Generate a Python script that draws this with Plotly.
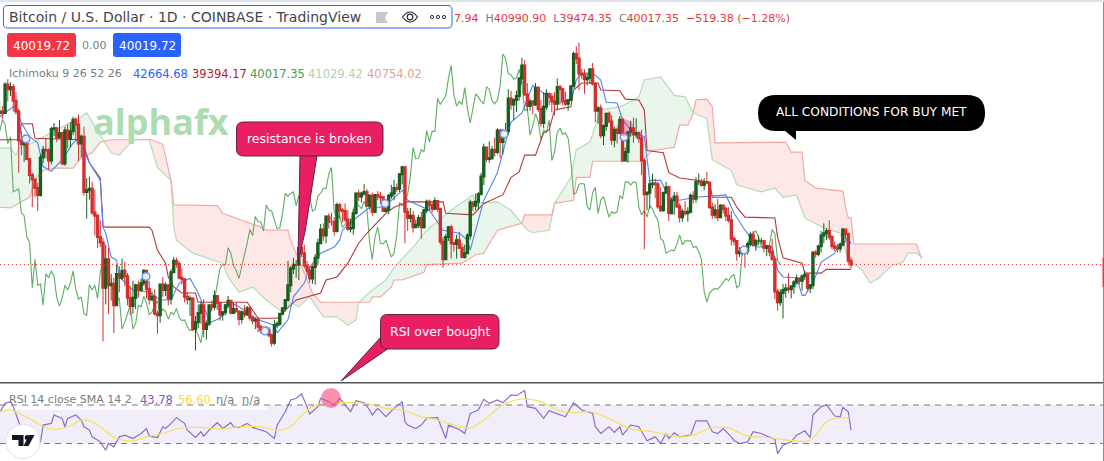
import numpy as np
import plotly.graph_objects as go

W, H = 1104, 461
LAST_PRICE = 40.01972

close = [60.0,59.8,63.5,62.9,63.2,61.4,60.0,56.2,55.7,56.5,53.8,51.7,51.1,50.0,49.1,54.0,55.0,54.9,53.6,57.7,
 57.8,56.6,57.2,53.2,57.5,56.4,57.4,58.9,58.3,55.8,56.7,49.5,49.7,49.9,46.8,46.4,43.6,42.9,37.0,40.7,37.3,37.5,34.7,38.8,38.3,39.2,38.5,35.7,34.6,35.7,37.3,
 36.7,37.6,39.2,36.8,35.5,35.8,33.6,33.4,37.4,36.7,37.3,35.6,39.0,40.5,40.1,38.3,38.1,35.8,35.5,35.6,31.6,32.5,33.7,34.7,31.6,32.3,34.7,34.5,35.9,35.0,
 33.5,33.8,34.7,35.3,33.7,34.2,33.9,32.9,33.8,33.5,34.3,33.1,32.7,32.8,31.9,31.4,31.5,31.5,30.8,29.8,32.1,32.3,33.6,34.3,35.4,37.3,39.5,40.0,40.0,42.2,41.5,
 39.9,39.2,38.2,39.7,40.9,42.8,44.6,43.8,46.3,45.6,45.6,44.4,47.8,47.1,47.0,45.9,44.7,44.8,46.7,49.3,48.9,49.3,49.5,47.7,49.0,46.9,49.1,48.9,48.8,47.0,47.2,
 49.0,49.3,50.0,49.9,51.8,52.7,46.9,46.1,46.4,44.9,45.2,46.1,44.9,47.1,48.2,47.8,47.3,48.3,47.3,43.0,40.7,43.6,44.9,42.8,42.7,43.2,42.2,41.0,41.5,43.8,
 48.1,47.7,48.2,49.2,51.5,55.3,53.8,53.9,55.0,54.7,57.5,56.0,57.4,57.4,61.7,60.9,61.5,62.0,64.3,66.0,62.2,60.7,61.3,60.9,63.1,60.3,58.5,60.6,62.3,61.9,61.3,
 61.0,63.2,62.9,61.4,61.0,61.5,63.3,67.5,66.9,64.9,64.8,64.2,64.4,65.5,63.6,60.1,60.4,56.9,58.1,59.7,58.7,56.3,57.6,57.2,58.9,53.6,54.7,57.3,57.8,57.0,
 57.2,56.5,53.6,49.2,49.4,50.5,50.6,50.5,47.6,47.1,49.4,50.1,46.7,48.4,48.9,47.6,46.2,46.9,46.7,46.9,49.0,48.6,50.8,50.8,50.4,50.8,50.7,47.5,46.5,47.1,46.2,
 47.7,47.3,46.4,45.8,43.4,43.1,41.5,41.7,41.9,41.8,42.7,43.9,42.6,43.1,43.1,43.1,42.2,42.4,41.7,40.7,36.5,35.1,36.3,36.7,36.9,36.8,37.2,37.7,38.2,37.9,38.5,
 38.7,37.0,37.3,41.6,41.4,42.4,43.8,44.1,44.4,43.6,42.4,42.2,42.1,42.6,44.6,44.0,40.5,40.0]
high = [61.2,60.7,63.8,64.2,63.8,63.6,62.5,60.4,57.5,57.0,56.7,53.9,52.0,51.2,50.7,54.4,55.5,56.5,55.2,58.0,
 58.5,57.9,58.9,57.2,58.0,58.3,58.6,59.3,59.2,59.6,57.0,58.0,51.3,51.5,50.8,49.8,46.6,45.8,43.5,42.6,42.2,38.8,38.3,40.0,39.8,40.8,40.4,38.9,37.2,37.9,37.5,
 37.9,38.2,39.4,39.3,37.9,36.5,36.8,34.0,37.5,38.4,37.7,37.4,39.4,41.0,40.9,40.5,39.5,38.2,36.4,36.0,35.7,33.3,34.8,35.2,35.5,32.7,34.7,35.3,36.6,36.0,
 35.1,33.9,34.9,35.9,35.3,35.0,35.1,33.9,34.0,34.7,34.6,34.6,33.3,33.1,33.2,32.2,31.9,32.0,31.9,31.0,32.8,32.6,33.6,34.4,35.4,40.5,39.8,40.9,40.6,42.3,42.4,
 42.6,40.5,39.8,39.9,41.4,43.4,45.3,45.4,46.4,46.7,46.8,46.2,48.1,48.1,47.4,48.0,47.1,46.0,47.3,49.4,49.8,49.5,50.5,49.9,49.2,49.4,49.2,49.6,49.5,48.9,48.3,
 49.2,50.4,51.1,50.6,51.9,52.9,52.9,47.4,47.4,47.0,45.9,46.5,46.9,47.3,48.5,48.5,48.2,48.8,48.4,47.3,43.6,44.0,45.0,45.2,43.0,43.9,44.3,42.8,42.6,44.1,
 48.5,48.3,49.3,49.5,52.0,55.8,55.3,56.1,55.5,56.6,57.8,57.7,57.7,58.5,62.9,62.7,61.7,62.7,64.5,67.0,66.7,63.7,61.7,61.5,63.7,63.3,61.5,62.5,62.9,62.4,62.4,
 62.5,64.3,63.5,63.1,62.6,61.6,63.3,67.8,68.5,69.0,65.6,65.5,65.0,65.5,66.3,63.5,60.7,60.9,58.3,59.8,60.0,59.5,58.0,57.9,59.4,59.2,55.3,57.4,58.8,59.2,
 59.1,57.4,57.6,53.9,49.6,51.0,51.9,51.2,50.8,50.1,49.5,50.8,50.3,48.7,49.5,49.5,48.0,47.3,48.3,47.5,49.3,49.6,51.4,51.9,51.2,51.3,52.1,50.7,48.1,47.9,48.6,
 47.9,47.9,47.6,47.5,47.0,43.7,43.1,42.3,42.0,42.2,43.0,44.3,44.4,43.4,43.8,43.5,43.2,42.6,42.5,43.4,41.1,36.8,36.8,37.5,37.5,38.9,37.2,38.0,38.7,38.3,38.7,
 39.2,38.9,37.5,41.7,41.9,42.6,44.4,45.4,44.8,45.8,43.9,43.0,42.7,42.9,44.8,44.6,44.2,41.0]
low = [59.5,59.0,59.8,61.3,62.0,60.0,59.6,52.0,54.3,53.4,53.6,50.6,47.5,48.8,47.0,48.9,53.3,53.9,52.4,53.1,
 56.8,56.0,56.6,53.0,52.9,55.2,55.3,56.9,56.2,53.5,54.0,49.0,46.0,48.5,46.5,43.8,42.2,42.3,30.0,34.8,33.6,35.3,31.1,34.8,36.4,38.0,37.2,34.7,33.4,33.6,34.2,
 35.7,36.5,37.2,35.6,34.8,35.2,33.4,31.0,32.4,35.8,35.9,34.7,34.8,39.2,39.6,38.1,37.4,35.1,34.8,33.3,31.3,28.8,31.7,32.3,30.5,30.2,32.0,33.9,34.1,34.1,
 32.7,32.7,33.4,34.4,33.6,33.6,33.9,32.1,32.3,33.1,33.3,32.7,32.2,31.6,31.2,31.0,31.1,31.1,30.5,29.3,29.5,31.7,32.0,33.4,33.9,35.2,36.4,38.8,38.3,38.0,41.0,
 39.5,38.7,37.6,37.5,37.4,39.9,42.8,43.1,42.8,44.7,45.1,43.8,44.2,46.0,45.5,45.6,44.4,44.2,43.9,46.6,48.3,48.1,49.0,47.6,47.2,46.4,46.7,48.4,47.9,46.9,46.8,
 46.6,48.6,48.4,49.5,49.5,50.5,42.8,44.4,45.5,44.2,44.8,44.8,43.4,44.7,46.7,47.0,46.8,47.1,46.9,42.6,39.6,40.6,43.1,40.8,41.7,40.8,42.1,40.8,40.8,41.4,
 43.3,47.0,47.1,47.2,49.1,50.4,53.4,53.3,53.7,54.1,54.4,53.9,54.4,56.9,56.9,60.2,58.9,59.9,61.4,63.5,62.0,60.0,60.1,59.6,60.7,59.9,58.0,57.8,60.2,60.8,59.9,
 59.5,60.2,60.9,60.8,60.7,60.1,61.4,63.2,66.2,62.8,64.2,62.3,63.4,63.6,63.4,58.6,58.4,56.5,55.6,57.5,58.5,55.6,55.3,55.8,57.0,53.5,53.6,53.3,56.7,55.9,
 56.5,55.9,51.7,42.0,47.1,47.3,50.0,48.7,47.3,46.9,46.9,49.3,45.7,46.6,46.5,47.4,45.5,45.6,46.4,45.6,46.7,48.0,48.1,50.4,50.2,49.7,50.5,47.3,46.0,46.0,45.7,
 46.2,46.7,45.7,45.5,42.5,42.5,40.5,41.0,41.2,39.6,41.3,42.4,42.3,41.8,42.6,42.7,41.6,41.1,41.1,40.6,35.5,34.0,34.6,33.0,35.7,36.3,35.6,36.2,37.4,37.4,36.6,
 38.0,36.6,36.3,36.8,40.9,41.1,41.6,42.8,43.2,43.2,42.0,41.8,41.6,41.6,42.4,43.3,40.1,39.5]
assert len(close) == len(high) == len(low) == 314
open_ = [59.8] + close[:-1]
bars = list(range(len(close)))
LAG = 26

kijun_bar = [0,7,8,12,13,30,31,33,37,38,39,55,56,58,61,62,64,67,72,73,91,95,102,106,109,118,120,124,128,132,135,142,145,150,163,164,174,178,185,188,191,193,197,200,202,204,210,211,214,220,221,228,230,235,237,238,244,246,250,261,262,269,271,274,285,286,288,295,296,302,304,313]
kijun_val = [56.3,56.3,58.4,58.4,56.5,56.3,55.4,53.3,51.3,45.0,44.9,44.9,44.5,41.9,40.2,38.4,37.1,36.3,36.3,35.1,35.1,33.0,33.0,34.3,35.4,36.3,38.0,38.4,40.2,42.8,44.1,46.7,47.5,48.2,48.2,46.7,46.5,48.0,49.1,51.4,52.1,54.3,54.3,57.2,57.6,60.2,60.6,62.8,63.7,63.7,62.8,62.7,61.6,61.5,60.2,54.9,54.6,52.0,51.3,50.8,48.8,48.8,47.5,46.2,46.1,43.6,40.9,40.2,38.9,38.9,39.4,39.39]

tenkan_bar = [0,5,6,8,11,14,16,19,23,27,30,32,33,37,38,39,41,43,44,49,55,59,63,66,70,73,76,77,81,85,88,95,101,102,106,108,112,114,118,123,125,126,130,136,140,144,148,150,158,163,169,172,173,178,183,186,188,192,194,196,205,210,212,214,218,221,223,227,229,233,237,238,239,243,246,250,256,267,270,274,276,278,284,286,288,293,295,296,299,302,307,309,310,312,313]
tenkan_val = [59.3,60.6,60.6,58.5,56.7,55.9,52.8,52.2,53.7,55.9,56.7,54.0,53.3,51.0,44.9,44.1,41.0,40.6,38.4,36.7,36.4,35.4,35.4,37.6,38.2,36.3,33.7,32.4,33.0,35.0,34.5,32.8,32.1,31.1,32.8,35.8,37.6,39.7,41.5,42.3,43.2,44.5,45.8,47.5,47.5,48.4,49.7,48.4,47.1,44.5,44.1,43.2,41.9,48.4,52.0,55.9,58.6,59.8,61.5,63.4,61.1,61.5,64.1,65.0,65.0,64.1,61.2,61.1,58.9,57.2,56.7,53.7,51.0,51.0,48.8,48.4,48.8,49.1,46.7,44.5,43.6,42.3,42.3,39.3,38.4,38.3,36.0,36.0,37.6,40.3,41.5,42.8,42.6,43.6,42.66]

span_b_bar = [0,4,11,13,16,20,27,30,34,37,41,56,60,63,64,80,82,96,98,106,107,115,118,136,137,140,144,145,148,156,157,170,175,178,183,192,193,203,204,211,212,217,218,236,240,248,250,253,255,256,260,262,263,289,291,295,296,300,310,311,312,313,314,337,339]
span_b_val = [47.5,47.4,48.8,51.0,52.3,52.6,52.6,54.0,54.6,56.0,56.3,56.3,55.7,51.0,47.8,47.7,46.7,44.9,44.5,44.5,43.2,36.3,35.1,35.1,35.8,35.8,37.1,38.0,38.0,39.0,40.0,40.2,41.3,41.5,44.5,45.4,46.5,46.5,48.0,48.4,51.4,51.4,53.5,53.5,54.9,55.3,58.2,58.2,59.8,61.5,61.6,60.6,55.9,56.0,54.7,54.7,51.0,50.0,49.6,47.5,46.1,46.1,42.7,42.7,40.75]

span_a_bar = [0,4,6,7,12,19,24,30,32,35,38,41,44,49,55,58,63,64,65,71,76,82,84,88,93,98,104,107,110,114,119,124,128,131,132,136,142,145,152,157,166,174,175,183,188,194,196,202,204,210,212,217,221,228,231,235,237,243,248,252,255,260,262,269,271,275,280,285,288,293,296,303,309,312,317,320,323,328,332,334,337,339]
span_a_val = [55.2,55.2,54.3,55.2,55.9,57.2,58.2,59.3,59.8,58.0,56.3,54.6,54.3,56.3,56.3,52.7,51.0,44.9,43.2,41.5,40.9,40.2,38.4,36.4,37.1,35.4,33.8,35.0,34.5,35.8,33.2,33.2,32.1,32.8,35.1,36.4,38.0,39.6,42.3,44.5,47.1,49.1,48.0,48.2,47.1,44.5,44.2,44.5,48.0,51.4,55.0,56.0,60.2,60.6,61.1,61.9,64.1,64.5,62.1,61.9,59.8,59.1,53.7,52.3,50.4,50.0,49.5,50.0,48.8,49.1,46.1,44.8,44.1,40.6,39.3,37.6,38.2,39.9,40.3,41.5,41.5,41.03]

rsi_bar = [0,2,4,5,7,8,10,15,16,19,20,23,24,25,28,30,31,33,34,37,39,40,42,44,46,49,52,54,55,58,60,61,63,65,68,69,72,74,75,77,80,82,85,86,88,91,93,96,98,101,102,105,107,109,111,113,114,117,118,121,123,125,126,129,131,134,136,137,139,142,145,148,149,150,153,155,157,161,164,165,169,171,173,176,178,180,183,185,188,190,193,194,197,200,202,205,208,211,214,218,219,221,224,226,228,229,232,235,238,241,243,245,246,248,250,254,256,260,262,264,266,269,270,272,275,277,280,285,286,288,291,293,296,298,299,302,304,307,309,310,312,313]
rsi_val = [62.3,71.7,73.5,68.3,52.6,43.9,33.5,31.7,49.1,50.9,59.6,56.1,47.4,56.1,59.6,54.3,47.4,43.9,36.9,31.7,23.0,30.0,26.5,36.9,38.7,35.2,40.4,45.6,37.6,36.2,47.4,45.6,50.9,56.8,50.9,43.9,36.2,42.2,37.6,43.9,51.6,45.6,51.6,47.4,46.7,50.9,46.7,43.9,42.2,35.2,49.1,63.0,75.2,77.0,81.5,68.3,60.6,68.3,77.0,73.5,70.0,77.0,73.5,63.0,74.5,72.4,64.8,59.6,66.5,57.8,66.5,73.5,52.6,49.1,45.6,49.1,56.1,57.1,35.2,49.1,44.6,40.4,61.3,64.8,75.9,71.7,75.2,72.4,80.4,79.7,85.0,68.3,66.5,56.1,64.1,61.3,57.8,72.4,64.8,61.3,47.4,40.4,47.4,41.5,47.4,38.7,49.1,47.4,32.8,36.9,30.0,40.4,35.2,41.1,36.9,38.7,53.6,53.6,42.2,40.4,45.6,36.9,33.0,30.0,31.7,42.2,40.4,34.2,19.5,28.2,31.7,38.7,43.2,36.2,59.6,68.3,70.0,58.5,57.8,67.6,63.0,43.78]

rsi_sma_bar = [0,4,7,12,16,20,25,30,33,37,43,49,54,60,66,74,81,88,96,102,107,110,115,120,128,136,142,148,155,161,167,173,178,185,192,199,205,210,217,224,232,238,245,251,256,261,268,272,275,282,292,298,304,307,313]
rsi_sma_val = [63.0,64.8,61.3,54.3,47.4,45.0,47.4,54.3,53.6,47.4,35.2,32.8,36.9,40.4,45.6,46.7,45.0,47.4,47.4,43.9,47.4,56.1,68.3,71.7,72.4,70.7,66.5,64.8,57.8,54.3,49.1,46.3,54.3,70.0,76.3,73.5,64.8,62.0,63.0,56.1,45.0,43.2,39.4,36.9,39.7,45.6,46.3,41.1,37.6,36.2,32.8,33.5,52.6,56.1,56.6]

pane_split = 79 / H
x_range = [0.13, 406.0]
price_range = [24.69, 74.54]
rsi_range = [11.8, 93.9]
UI = "DejaVu Sans"

def PX(x): return x / W
def PY(y): return 1 - y / H

def rrect(x0, y0, x1, y1, r):
    c = lambda x, y: f"{PX(x):.5f},{PY(y):.5f}"
    return (f"M{c(x0+r,y0)} L{c(x1-r,y0)} Q{c(x1,y0)} {c(x1,y0+r)} L{c(x1,y1-r)} Q{c(x1,y1)} {c(x1-r,y1)} "
            f"L{c(x0+r,y1)} Q{c(x0,y1)} {c(x0,y1-r)} L{c(x0,y0+r)} Q{c(x0,y0)} {c(x0+r,y0)} Z")

def poly(pts):
    return "M" + " L".join(f"{PX(x):.5f},{PY(y):.5f}" for x, y in pts) + " Z"

def box(x0, y0, x1, y1, fill, layer="above", line=None, lw=0):
    return dict(type="rect", xref="paper", yref="paper", x0=PX(x0), x1=PX(x1), y0=PY(y0), y1=PY(y1),
                fillcolor=fill, line=dict(width=lw, color=line or fill), layer=layer)

def path(d, fill, line=None, lw=0, layer="above"):
    return dict(type="path", xref="paper", yref="paper", path=d, fillcolor=fill,
                line=dict(width=lw, color=line or "rgba(0,0,0,0)"), layer=layer)

def circle(cx, cy, r, fill, line=None, lw=0):
    return dict(type="circle", xref="paper", yref="paper", x0=PX(cx-r), x1=PX(cx+r), y0=PY(cy+r), y1=PY(cy-r),
                fillcolor=fill, line=dict(width=lw, color=line or "rgba(0,0,0,0)"), layer="above")

def text(x, y, s, size=12, color="#131722", anchor="left", family=UI):
    return dict(xref="paper", yref="paper", x=PX(x), y=PY(y), text=s, showarrow=False, xanchor=anchor,
                yanchor="middle", font=dict(size=size, color=color, family=family), borderpad=0)

fig = go.Figure()

# cloud fills, one closed polygon per run between span crossings
xs = np.array(sorted(set(span_a_bar) | set(span_b_bar)), dtype=float)
a = np.interp(xs, span_a_bar, span_a_val)
b = np.interp(xs, span_b_bar, span_b_val)
runs, cx, ca, cb = [], [xs[0]], [a[0]], [b[0]]
for k in range(1, len(xs)):
    d0, d1 = a[k-1] - b[k-1], a[k] - b[k]
    if d0 * d1 < 0:
        t = d0 / (d0 - d1)
        xc, yc = xs[k-1] + t * (xs[k] - xs[k-1]), a[k-1] + t * (a[k] - a[k-1])
        cx.append(xc); ca.append(yc); cb.append(yc)
        runs.append((cx, ca, cb))
        cx, ca, cb = [xc], [yc], [yc]
    cx.append(xs[k]); ca.append(a[k]); cb.append(b[k])
    if d1 == 0:  # the spans touch exactly at this bar: close the run here
        runs.append((cx, ca, cb))
        cx, ca, cb = [xs[k]], [a[k]], [b[k]]
runs.append((cx, ca, cb))
for rx, ra, rb in runs:
    if len(rx) < 2:
        continue
    up = np.mean(ra) >= np.mean(rb)
    col = "rgba(67,160,71,0.11)" if up else "rgba(244,67,54,0.12)"
    fig.add_trace(go.Scatter(x=list(rx) + list(rx)[::-1], y=list(ra) + list(rb)[::-1], mode="lines",
                             line=dict(width=0), fill="toself", fillcolor=col, hoverinfo="skip"))

fig.add_trace(go.Scatter(x=span_a_bar, y=span_a_val, mode="lines", line=dict(color="#b5dcb7", width=1.2)))
fig.add_trace(go.Scatter(x=span_b_bar, y=span_b_val, mode="lines", line=dict(color="#f2aaa6", width=1.2)))
fig.add_trace(go.Scatter(x=[i - LAG for i in bars[LAG:]], y=close[LAG:], mode="lines", line=dict(color="#5fae63", width=1.1)))
fig.add_trace(go.Scatter(x=kijun_bar, y=kijun_val, mode="lines", line=dict(color="#b5363a", width=1.1)))
fig.add_trace(go.Scatter(x=tenkan_bar, y=tenkan_val, mode="lines", line=dict(color="#4f85f5", width=1.1)))

UP_C, DN_C = "#14601f", "#d32f2f"
# wicks
fig.add_trace(go.Candlestick(x=bars, open=open_, high=high, low=low, close=close, xaxis="x3", yaxis="y3",
    increasing=dict(line=dict(color=UP_C, width=1), fillcolor=UP_C),
    decreasing=dict(line=dict(color=DN_C, width=1), fillcolor=DN_C), whiskerwidth=0))
# bodies drawn a little heavier than the wicks
fig.add_trace(go.Candlestick(x=bars, open=open_, close=close,
    high=[max(o, c) for o, c in zip(open_, close)], low=[min(o, c) for o, c in zip(open_, close)],
    xaxis="x3", yaxis="y3",
    increasing=dict(line=dict(color=UP_C, width=2), fillcolor=UP_C),
    decreasing=dict(line=dict(color=DN_C, width=2), fillcolor=DN_C), whiskerwidth=0))

fig.add_trace(go.Scatter(x=rsi_bar, y=rsi_val, mode="lines", xaxis="x2", yaxis="y2", line=dict(color="#8a6ccb", width=1.2)))
fig.add_trace(go.Scatter(x=rsi_sma_bar, y=rsi_sma_val, mode="lines", line_shape="spline", xaxis="x2", yaxis="y2", line=dict(color="#f6e05e", width=1.2)))

shapes = [
    dict(type="rect", xref="paper", yref="y2", x0=0, x1=1, y0=30, y1=70, fillcolor="rgba(126,87,194,0.10)", line=dict(width=0), layer="below"),
    box(0, 391, 267, 410, "rgba(255,255,255,0.75)", layer="below"),
    dict(type="line", xref="paper", yref="y2", x0=0, x1=1, y0=70, y1=70, line=dict(color="#787b86", width=1, dash="6px,5px"), layer="above"),
    dict(type="line", xref="paper", yref="y2", x0=0, x1=1, y0=30, y1=30, line=dict(color="#787b86", width=1, dash="6px,5px"), layer="above"),
    dict(type="line", xref="paper", yref="y", x0=0, x1=1, y0=LAST_PRICE, y1=LAST_PRICE, line=dict(color="#e53935", width=1, dash="1px,3px"), layer="above"),
    box(0, 382, W, 383.5, "#50535e"),
    box(0, 0, W, 2, "#e0e3eb"),
    box(1103, 2, W, H, "#8a8d97"),
    box(1102.5, 258, W, 287, "#f23645"),
]
# session circles
for cxp, cyp in [(26, 139), (146, 276.5), (265, 331), (385, 203.5), (504, 134), (624, 137), (744, 250)]:
    shapes.append(circle(cxp, cyp, 3.8, "rgba(255,255,255,0.9)", "#6f94f0", 1.5))
shapes.append(circle(625, 128, 8.5, "rgba(233,30,99,0.35)"))
shapes.append(circle(331, 398, 10, "rgba(240,80,130,0.62)"))
# header box
shapes.append(path(rrect(3.5, 5.5, 452, 28, 4), "white", "#2962ff", 1))
shapes.append(path(poly([(376, 12), (388, 12), (385, 18), (388, 23), (376, 23)]), "#c5c8d0"))
shapes.append(dict(type="path", xref="paper", yref="paper", layer="above", fillcolor="rgba(0,0,0,0)", line=dict(color="#2a2e39", width=1.2),
                   path=f"M{PX(402.5):.5f},{PY(17):.5f} Q{PX(410):.5f},{PY(7):.5f} {PX(417.5):.5f},{PY(17):.5f} Q{PX(410):.5f},{PY(27):.5f} {PX(402.5):.5f},{PY(17):.5f} Z"))
shapes.append(circle(410, 17, 2.8, "rgba(0,0,0,0)", "#2a2e39", 1.2))
for dot in (432, 438, 444):
    shapes.append(circle(dot, 17, 1.6, "rgba(0,0,0,0)", "#2a2e39", 1))
# pills
shapes.append(path(rrect(7, 33, 76, 57, 3), "#f23645"))
shapes.append(path(rrect(113, 33, 181, 57, 3), "#2962ff"))
# callouts
PINK, EDGE = "#e91e63", "#5c2346"
shapes.append(path(poly([(300, 155), (317, 155), (305, 232), (298, 262)]), PINK, EDGE, 1))
shapes.append(path(rrect(236.5, 122, 383, 156, 7), PINK, EDGE, 1))
shapes.append(path(poly([(380, 338), (389, 348), (341, 381)]), PINK, EDGE, 1))
shapes.append(path(rrect(380.5, 314.5, 499, 349, 7), PINK, EDGE, 1))
shapes.append(path(poly([(784, 130), (796, 130), (796, 140)]), "black"))
shapes.append(path(rrect(758, 95, 985, 131, 18), "black"))
# logo
shapes.append(circle(23, 441.5, 17, "white", "#e0e3eb", 1))
shapes.append(path(poly([(12, 435), (23.5, 435), (23.5, 446), (18.5, 446), (18.5, 440), (12, 440)]), "#131722"))
shapes.append(circle(27.2, 437.5, 2.5, "#131722"))
shapes.append(path(poly([(29, 435), (34.5, 435), (28.5, 446), (23.5, 446)]), "#131722"))

G = "#787b86"
ann = [
    text(8, 17.5, "Bitcoin / U.S. Dollar · 1D · COINBASE · TradingView", 14, "#434651"),
    text(453, 18.5, f'<span style="color:#e53935">7.94</span>  <span style="color:{G}">H</span><span style="color:#e53935">40990.90</span>  '
         f'<span style="color:{G}">L</span><span style="color:#e53935">39474.35</span>  <span style="color:{G}">C</span><span style="color:#e53935">40017.35</span>  '
         f'<span style="color:#e53935">−519.38 (−1.28%)</span>', 11, "#e53935"),
    text(41.5, 45.5, "40019.72", 12, "white", "center"),
    text(94, 45.5, "0.00", 11, G, "center"),
    text(147, 45.5, "40019.72", 12, "white", "center"),
    text(8, 73.5, "Ichimoku 9 26 52 26", 11, G),
    text(132, 73.5, "42664.68", 11.5, "#2962ff"),
    text(191, 73.5, "39394.17", 11.5, "#b71c1c"),
    text(249, 73.5, "40017.35", 11.5, "#43a047"),
    text(307, 73.5, "41029.42", 11.5, "#a5d6a7"),
    text(366, 73.5, "40754.02", 11.5, "#ef9a9a"),
    text(161, 121, "<b>alphafx</b>", 36, "#aedcb1", "center", "Open Sans"),
    text(309.5, 138, "resistance is broken", 12.5, "white", "center"),
    text(439.5, 331, "RSI over bought", 12.5, "white", "center"),
    text(871.5, 112, "ALL CONDITIONS FOR BUY MET", 12.2, "white", "center"),
    text(8, 399.5, "RSI 14 close SMA 14 2", 11, G),
    text(139, 399.5, "43.78", 11.5, "#7e57c2"),
    text(177, 399.5, "56.60", 11.5, "#fdd835"),
    text(215, 399.5, "n/a", 11.5, G),
    text(241, 399.5, "n/a", 11.5, G),
]

hidden = dict(visible=False, showgrid=False, zeroline=False, fixedrange=True)
fig.update_layout(
    width=W, height=H, margin=dict(l=0, r=0, t=0, b=0), showlegend=False,
    paper_bgcolor="white", plot_bgcolor="white", shapes=shapes, annotations=ann,
    xaxis=dict(range=x_range, anchor="y", **hidden),
    yaxis=dict(range=price_range, domain=[pane_split, 1], anchor="x", **hidden),
    xaxis2=dict(range=x_range, anchor="y2", **hidden),
    yaxis2=dict(range=rsi_range, domain=[0, pane_split], anchor="x2", **hidden),
    xaxis3=dict(range=x_range, anchor="y3", overlaying="x", rangeslider=dict(visible=False), **hidden),
    yaxis3=dict(range=price_range, domain=[pane_split, 1], anchor="x3", overlaying="y", **hidden),
)
fig.write_html("out.html", config=dict(displayModeBar=False),
               post_script="document.body.style.margin='0';document.documentElement.style.overflow='hidden';")
